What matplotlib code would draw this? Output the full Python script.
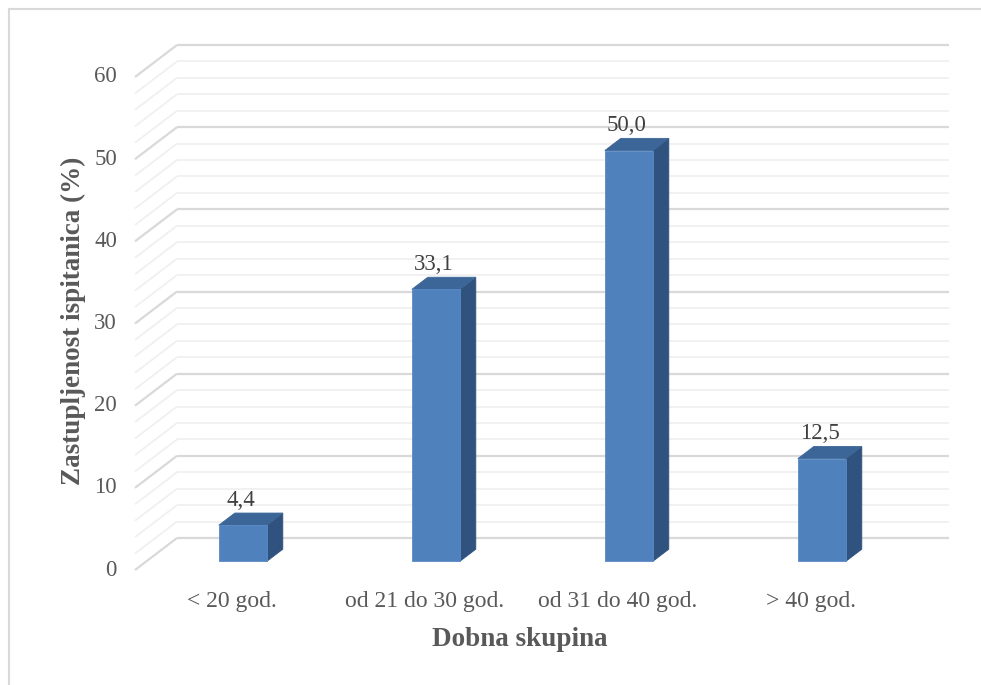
import matplotlib
matplotlib.use("Agg")
import matplotlib.pyplot as plt
from matplotlib.patches import Polygon
from matplotlib.lines import Line2D
import numpy as np

# ---- data ----
categories = ["< 20 god.", "od 21 do 30 god.", "od 31 do 40 god.", "> 40 god."]
values = [4.4, 33.1, 50.0, 12.5]
value_labels = ["4,4", "33,1", "50,0", "12,5"]
y_ticks = [0, 10, 20, 30, 40, 50, 60]
y_minor = [v for v in range(0, 61, 2)]
x_label = "Dobna skupina"
y_label = "Zastupljenost ispitanica (%)"

# ---- style ----
FONT = "Liberation Serif"
TXT = "#595959"
FRONT = "#4F81BD"
SIDE = "#30527F"
TOP = "#3D6698"
GRID_MAJ = "#D9D9D9"
GRID_MIN = "#F0F0F0"

W, H = 981, 685
fig = plt.figure(figsize=(W / 100, H / 100), dpi=100)
ax = fig.add_axes([0, 0, 1, 1])
ax.set_axis_off()

# pixel anchors for the plot box (front plane)
px_x0, px_cat = 135.0, 193.0          # x=0 at px 135, one category = 193 px
px_y0, px_unit = 570.0, 493.0 / 60.0  # value 0 at py 570, 8.22 px per unit
ax.set_xlim((0 - px_x0) / px_cat, (W - px_x0) / px_cat)
ax.set_ylim((px_y0 - H) / px_unit, (px_y0 - 0) / px_unit)

# depth vector (data units) for full depth of the 3D box
Dx = 42.0 / px_cat
Dy = 32.0 / px_unit
n = len(categories)

# back wall gridlines + left wall diagonals
for v in y_minor:
    major = v in y_ticks
    c = GRID_MAJ if major else GRID_MIN
    lw = 1.6 if major else 1.3
    z = 1 if major else 0.5
    ax.plot([Dx, n + Dx], [v + Dy, v + Dy], color=c, lw=lw, zorder=z,
            solid_capstyle="butt")
    ax.plot([0, Dx], [v, v + Dy], color=c, lw=lw, zorder=z,
            solid_capstyle="butt")

# bars
d0, dd = 0.27, 0.38
bw = 48.0 / px_cat
for i, (v, lab) in enumerate(zip(values, value_labels)):
    cx = i + 0.5 + d0 * Dx
    by = d0 * Dy
    x0, x1 = cx - bw / 2, cx + bw / 2
    y0, y1 = by, by + v
    ox, oy = dd * Dx, dd * Dy
    front = Polygon([(x0, y0), (x1, y0), (x1, y1), (x0, y1)], closed=True,
                    facecolor=FRONT, edgecolor="#5A8AC6", lw=0.6, zorder=3)
    side = Polygon([(x1, y0), (x1 + ox, y0 + oy), (x1 + ox, y1 + oy), (x1, y1)],
                   closed=True, facecolor=SIDE, edgecolor=SIDE, lw=0.6, zorder=3)
    top = Polygon([(x0, y1), (x1, y1), (x1 + ox, y1 + oy), (x0 + ox, y1 + oy)],
                  closed=True, facecolor=TOP, edgecolor=TOP, lw=0.6, zorder=3)
    for p in (side, top, front):
        ax.add_patch(p)
    ax.text(cx - 0.01, y1 + oy + 0.3, lab, ha="center", va="bottom",
            fontsize=16.5, family=FONT, color="#404040", zorder=4)

# y tick labels
for t in y_ticks:
    ax.text(-18.0 / px_cat, t, str(t), ha="right", va="center",
            fontsize=16.5, family=FONT, color=TXT)

# category labels
for i, c in enumerate(categories):
    ax.text(i + 0.5, (px_y0 - 601) / px_unit, c, ha="center", va="center",
            fontsize=17, family=FONT, color=TXT)

# axis titles
ax.text((520 - px_x0) / px_cat, (px_y0 - 640) / px_unit, x_label,
        ha="center", va="center", fontsize=19.5, family=FONT,
        fontweight="bold", color=TXT)
ax.text((73 - px_x0) / px_cat, (px_y0 - 321) / px_unit, y_label,
        ha="center", va="center", rotation=90, fontsize=19.5, family=FONT,
        fontweight="bold", color=TXT)

# chart area frame (left & top visible)
fig.add_artist(Line2D([8.5 / W, 8.5 / W], [0, 1 - 8.5 / H], transform=fig.transFigure,
                      color="#D9D9D9", lw=1.5))
fig.add_artist(Line2D([8.5 / W, 1], [1 - 8.5 / H, 1 - 8.5 / H], transform=fig.transFigure,
                      color="#D9D9D9", lw=1.5))

fig.savefig("out.png", dpi=100, facecolor="white")
